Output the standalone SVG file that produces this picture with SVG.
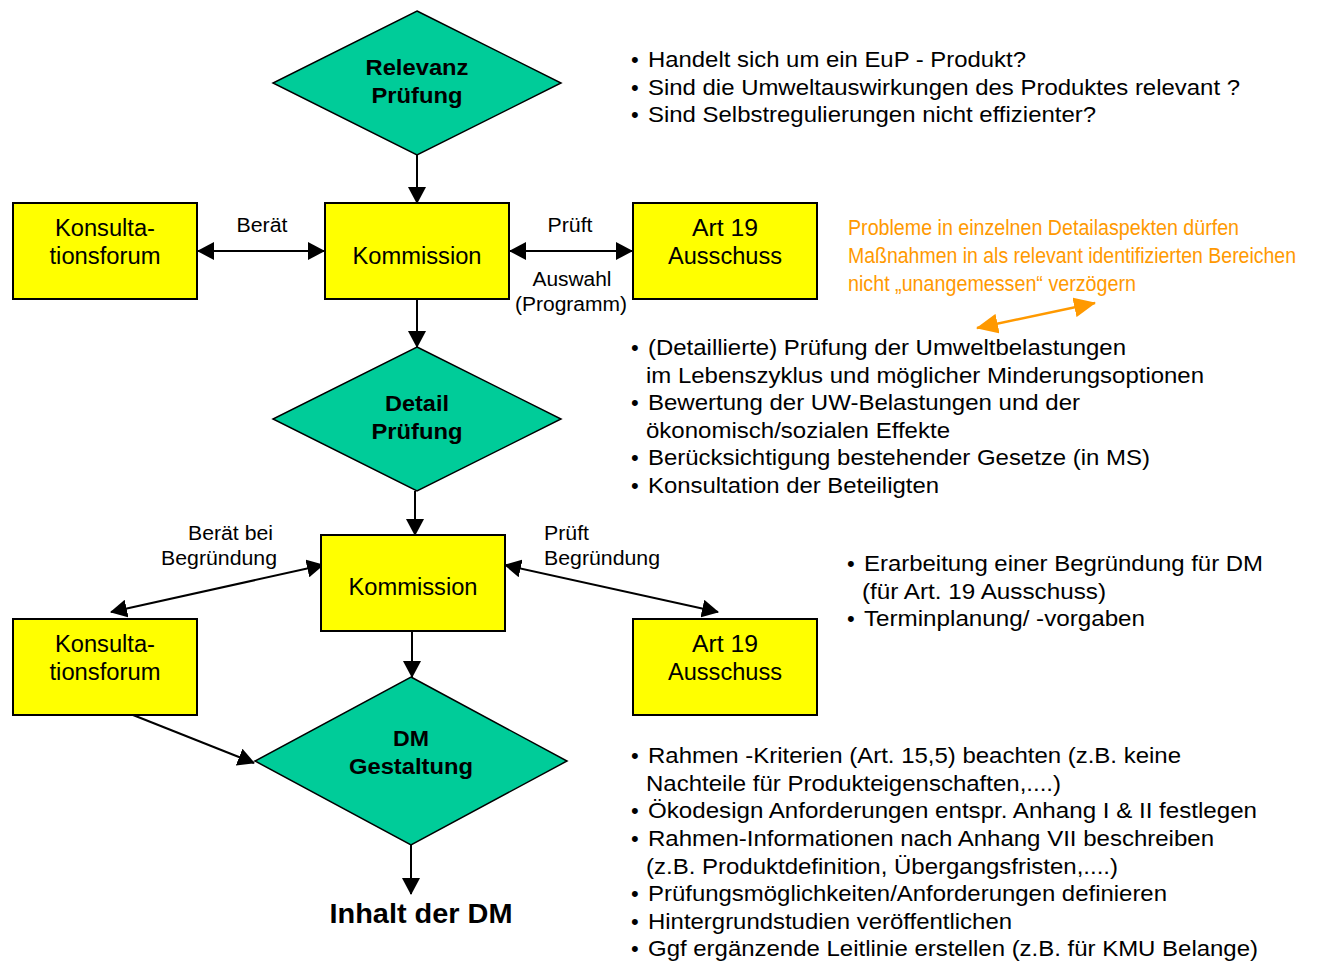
<svg xmlns="http://www.w3.org/2000/svg" width="1319" height="961" viewBox="0 0 1319 961">
<style>
.box{fill:#FFFF00;stroke:#000;stroke-width:2}
.dia{fill:#00CC99;stroke:#000;stroke-width:1.5}
.lbl{font-family:"Liberation Sans",Arial,sans-serif;font-size:23.5px;fill:#000;text-anchor:middle}
.dlb{font-family:"Liberation Sans",Arial,sans-serif;font-size:22.5px;font-weight:bold;fill:#000;text-anchor:middle}
.cl{font-family:"Liberation Sans",Arial,sans-serif;font-size:20px;fill:#000}
.bl{font-family:"Liberation Sans",Arial,sans-serif;font-size:22px;fill:#000}
.or{font-family:"Liberation Sans",Arial,sans-serif;font-size:22px;fill:#FF9900}
.ln{stroke:#000;stroke-width:2;fill:none}
</style>
<defs>
<marker id="ah" markerUnits="userSpaceOnUse" markerWidth="17" markerHeight="18" viewBox="0 0 17 18" refX="16" refY="9" orient="auto-start-reverse">
<path d="M0,0 L17,9 L0,18 z" fill="#000"/>
</marker>
<marker id="aho" markerUnits="userSpaceOnUse" markerWidth="22" markerHeight="20" viewBox="0 0 22 20" refX="21" refY="10" orient="auto-start-reverse">
<path d="M0,0 L22,10 L0,20 z" fill="#FF9900"/>
</marker>
</defs>

<g id="connectors">
<line class="ln" x1="417" y1="155" x2="417" y2="203" marker-end="url(#ah)"/>
<line class="ln" x1="198" y1="251" x2="324" y2="251" marker-start="url(#ah)" marker-end="url(#ah)"/>
<line class="ln" x1="510" y1="251" x2="632" y2="251" marker-start="url(#ah)" marker-end="url(#ah)"/>
<line class="ln" x1="417" y1="299" x2="417" y2="347" marker-end="url(#ah)"/>
<line class="ln" x1="415" y1="491" x2="415" y2="535" marker-end="url(#ah)"/>
<line class="ln" x1="323" y1="565" x2="111" y2="612" marker-start="url(#ah)" marker-end="url(#ah)"/>
<line class="ln" x1="505" y1="565" x2="718" y2="612" marker-start="url(#ah)" marker-end="url(#ah)"/>
<line class="ln" x1="412" y1="631" x2="412" y2="677" marker-end="url(#ah)"/>
<line class="ln" x1="133" y1="715" x2="254" y2="763" marker-end="url(#ah)"/>
<line class="ln" x1="411" y1="845" x2="411" y2="894" marker-end="url(#ah)"/>
<line x1="977" y1="328" x2="1095" y2="303" stroke="#FF9900" stroke-width="2.5" marker-start="url(#aho)" marker-end="url(#aho)"/>
<text class="cl" x="262" y="232" text-anchor="middle" textLength="51" lengthAdjust="spacingAndGlyphs">Berät</text>
<text class="cl" x="570" y="232" text-anchor="middle" textLength="45" lengthAdjust="spacingAndGlyphs">Prüft</text>
<text class="cl" x="572" y="286" text-anchor="middle" textLength="79" lengthAdjust="spacingAndGlyphs">Auswahl</text>
<text class="cl" x="571" y="311" text-anchor="middle" textLength="112" lengthAdjust="spacingAndGlyphs">(Programm)</text>
<text class="cl" x="188" y="540" textLength="85" lengthAdjust="spacingAndGlyphs">Berät bei</text>
<text class="cl" x="161" y="565" textLength="116" lengthAdjust="spacingAndGlyphs">Begründung</text>
<text class="cl" x="544" y="540" textLength="45" lengthAdjust="spacingAndGlyphs">Prüft</text>
<text class="cl" x="544" y="565" textLength="116" lengthAdjust="spacingAndGlyphs">Begründung</text>
</g>

<g id="relevanz">
<polygon class="dia" points="417,11 561,83 417,155 273,83"/>
<text class="dlb" x="417" y="75" textLength="103" lengthAdjust="spacingAndGlyphs">Relevanz</text>
<text class="dlb" x="417" y="103" textLength="91" lengthAdjust="spacingAndGlyphs">Prüfung</text>
</g>
<g id="konsult1">
<rect class="box" x="13" y="203" width="184" height="96"/>
<text class="lbl" x="105" y="236" textLength="100" lengthAdjust="spacingAndGlyphs">Konsulta-</text>
<text class="lbl" x="105" y="264" textLength="111" lengthAdjust="spacingAndGlyphs">tionsforum</text>
</g>
<g id="kommission1">
<rect class="box" x="325" y="203" width="184" height="96"/>
<text class="lbl" x="417" y="264" textLength="129" lengthAdjust="spacingAndGlyphs">Kommission</text>
</g>
<g id="art19a">
<rect class="box" x="633" y="203" width="184" height="96"/>
<text class="lbl" x="725" y="236" textLength="66" lengthAdjust="spacingAndGlyphs">Art 19</text>
<text class="lbl" x="725" y="264" textLength="114" lengthAdjust="spacingAndGlyphs">Ausschuss</text>
</g>
<g id="detail">
<polygon class="dia" points="417,347 561,419 417,491 273,419"/>
<text class="dlb" x="417" y="411" textLength="64" lengthAdjust="spacingAndGlyphs">Detail</text>
<text class="dlb" x="417" y="439" textLength="91" lengthAdjust="spacingAndGlyphs">Prüfung</text>
</g>
<g id="kommission2">
<rect class="box" x="321" y="535" width="184" height="96"/>
<text class="lbl" x="413" y="595" textLength="129" lengthAdjust="spacingAndGlyphs">Kommission</text>
</g>
<g id="konsult2">
<rect class="box" x="13" y="619" width="184" height="96"/>
<text class="lbl" x="105" y="652" textLength="100" lengthAdjust="spacingAndGlyphs">Konsulta-</text>
<text class="lbl" x="105" y="680" textLength="111" lengthAdjust="spacingAndGlyphs">tionsforum</text>
</g>
<g id="art19b">
<rect class="box" x="633" y="619" width="184" height="96"/>
<text class="lbl" x="725" y="652" textLength="66" lengthAdjust="spacingAndGlyphs">Art 19</text>
<text class="lbl" x="725" y="680" textLength="114" lengthAdjust="spacingAndGlyphs">Ausschuss</text>
</g>
<g id="dm">
<polygon class="dia" points="411,677 567,761 411,845 255,761"/>
<text class="dlb" x="411" y="746" textLength="36" lengthAdjust="spacingAndGlyphs">DM</text>
<text class="dlb" x="411" y="774" textLength="124" lengthAdjust="spacingAndGlyphs">Gestaltung</text>
</g>
<g id="inhalt">
<text x="421" y="923" text-anchor="middle" textLength="183" lengthAdjust="spacingAndGlyphs" style="font-family:'Liberation Sans',Arial,sans-serif;font-size:28px;font-weight:bold">Inhalt der DM</text>
</g>

<g id="list1">
<text class="bl" x="631" y="67">•</text><text class="bl" x="648" y="67" textLength="378" lengthAdjust="spacingAndGlyphs">Handelt sich um ein EuP - Produkt?</text>
<text class="bl" x="631" y="95">•</text><text class="bl" x="648" y="95" textLength="592" lengthAdjust="spacingAndGlyphs">Sind die Umweltauswirkungen des Produktes relevant ?</text>
<text class="bl" x="631" y="122">•</text><text class="bl" x="648" y="122" textLength="448" lengthAdjust="spacingAndGlyphs">Sind Selbstregulierungen nicht effizienter?</text>
</g>
<g id="orange">
<text class="or" x="848" y="235" textLength="391" lengthAdjust="spacingAndGlyphs">Probleme in einzelnen Detailaspekten dürfen</text>
<text class="or" x="848" y="263" textLength="448" lengthAdjust="spacingAndGlyphs">Maßnahmen in als relevant identifizierten Bereichen</text>
<text class="or" x="848" y="291" textLength="288" lengthAdjust="spacingAndGlyphs">nicht „unangemessen“ verzögern</text>
</g>
<g id="list2">
<text class="bl" x="631" y="355">•</text><text class="bl" x="648" y="355" textLength="478" lengthAdjust="spacingAndGlyphs">(Detaillierte) Prüfung der Umweltbelastungen</text>
<text class="bl" x="646" y="383" textLength="558" lengthAdjust="spacingAndGlyphs">im Lebenszyklus und möglicher Minderungsoptionen</text>
<text class="bl" x="631" y="410">•</text><text class="bl" x="648" y="410" textLength="432" lengthAdjust="spacingAndGlyphs">Bewertung der UW-Belastungen und der</text>
<text class="bl" x="646" y="438" textLength="304" lengthAdjust="spacingAndGlyphs">ökonomisch/sozialen Effekte</text>
<text class="bl" x="631" y="465">•</text><text class="bl" x="648" y="465" textLength="502" lengthAdjust="spacingAndGlyphs">Berücksichtigung bestehender Gesetze (in MS)</text>
<text class="bl" x="631" y="493">•</text><text class="bl" x="648" y="493" textLength="291" lengthAdjust="spacingAndGlyphs">Konsultation der Beteiligten</text>
</g>
<g id="list3">
<text class="bl" x="847" y="571">•</text><text class="bl" x="864" y="571" textLength="399" lengthAdjust="spacingAndGlyphs">Erarbeitung einer Begründung für DM</text>
<text class="bl" x="862" y="599" textLength="244" lengthAdjust="spacingAndGlyphs">(für Art. 19 Ausschuss)</text>
<text class="bl" x="847" y="626">•</text><text class="bl" x="864" y="626" textLength="281" lengthAdjust="spacingAndGlyphs">Terminplanung/ -vorgaben</text>
</g>
<g id="list4">
<text class="bl" x="631" y="763">•</text><text class="bl" x="648" y="763" textLength="533" lengthAdjust="spacingAndGlyphs">Rahmen -Kriterien (Art. 15,5) beachten (z.B. keine</text>
<text class="bl" x="646" y="791" textLength="415" lengthAdjust="spacingAndGlyphs">Nachteile für Produkteigenschaften,....)</text>
<text class="bl" x="631" y="818">•</text><text class="bl" x="648" y="818" textLength="609" lengthAdjust="spacingAndGlyphs">Ökodesign Anforderungen entspr. Anhang I &amp; II festlegen</text>
<text class="bl" x="631" y="846">•</text><text class="bl" x="648" y="846" textLength="566" lengthAdjust="spacingAndGlyphs">Rahmen-Informationen nach Anhang VII beschreiben</text>
<text class="bl" x="646" y="874" textLength="472" lengthAdjust="spacingAndGlyphs">(z.B. Produktdefinition, Übergangsfristen,....)</text>
<text class="bl" x="631" y="901">•</text><text class="bl" x="648" y="901" textLength="519" lengthAdjust="spacingAndGlyphs">Prüfungsmöglichkeiten/Anforderungen definieren</text>
<text class="bl" x="631" y="929">•</text><text class="bl" x="648" y="929" textLength="364" lengthAdjust="spacingAndGlyphs">Hintergrundstudien veröffentlichen</text>
<text class="bl" x="631" y="956">•</text><text class="bl" x="648" y="956" textLength="610" lengthAdjust="spacingAndGlyphs">Ggf ergänzende Leitlinie erstellen (z.B. für KMU Belange)</text>
</g>
</svg>
